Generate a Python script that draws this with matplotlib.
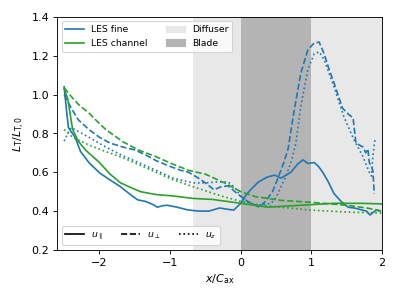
import numpy as np
import matplotlib
matplotlib.use("Agg")
import matplotlib.pyplot as plt
from matplotlib.lines import Line2D
from matplotlib.patches import Patch

# LES fine
fine_par_x = [-2.5, -2.47, -2.44, -2.34, -2.27, -2.15, -2.0, -1.85, -1.7, -1.58, -1.46, -1.35, -1.25,
              -1.18, -1.1, -1.04, -0.9, -0.75, -0.6, -0.45, -0.3, -0.2, -0.1, 0.0, 0.07, 0.14, 0.25,
              0.38, 0.48, 0.57, 0.64, 0.71, 0.8, 0.88, 0.95, 1.04, 1.1, 1.16, 1.24, 1.32, 1.42,
              1.52, 1.62, 1.72, 1.78, 1.83, 1.88, 1.92, 1.97]
fine_par_y = [1.04, 0.93, 0.83, 0.777, 0.708, 0.65, 0.597, 0.56, 0.525, 0.49, 0.458, 0.45, 0.435,
              0.42, 0.428, 0.43, 0.42, 0.406, 0.40, 0.40, 0.416, 0.41, 0.405, 0.44, 0.48, 0.51, 0.55,
              0.576, 0.585, 0.57, 0.585, 0.60, 0.64, 0.664, 0.645, 0.65, 0.63, 0.60, 0.55, 0.49, 0.45,
              0.42, 0.415, 0.405, 0.40, 0.38, 0.395, 0.405, 0.40]
fine_perp_x = [-2.5, -2.4, -2.3, -2.15, -2.0, -1.85, -1.67, -1.5, -1.35, -1.2, -1.0, -0.85, -0.74,
               -0.6, -0.5, -0.38, -0.28, -0.18, -0.05, 0.1, 0.26, 0.35, 0.45, 0.5, 0.6, 0.67, 0.75,
               0.85, 0.95, 1.04, 1.11, 1.18, 1.25, 1.32, 1.44, 1.52, 1.59, 1.63, 1.68, 1.73, 1.77,
               1.8, 1.82, 1.87, 1.89]
fine_perp_y = [1.0, 0.93, 0.87, 0.82, 0.78, 0.75, 0.73, 0.715, 0.69, 0.66, 0.63, 0.61, 0.60, 0.57,
               0.545, 0.51, 0.525, 0.53, 0.49, 0.45, 0.42, 0.45, 0.50, 0.545, 0.64, 0.72, 0.905,
               1.11, 1.23, 1.266, 1.27, 1.21, 1.13, 1.06, 0.93, 0.90, 0.88, 0.75, 0.74, 0.73, 0.70,
               0.72, 0.65, 0.61, 0.49]
fine_z_x = [-2.5, -2.45, -2.4, -2.3, -2.15, -1.91, -1.7, -1.45, -1.2, -0.96, -0.8, -0.67, -0.5,
            -0.35, -0.18, -0.08, 0.0, 0.12, 0.24, 0.35, 0.43, 0.5, 0.57, 0.64, 0.71, 0.78, 0.85,
            0.95, 1.04, 1.11, 1.18, 1.25, 1.32, 1.46, 1.6, 1.73, 1.82, 1.85, 1.87, 1.9]
fine_z_y = [0.76, 0.80, 0.83, 0.81, 0.78, 0.73, 0.69, 0.65, 0.61, 0.57, 0.555, 0.545, 0.545, 0.55,
            0.55, 0.52, 0.475, 0.44, 0.43, 0.435, 0.44, 0.47, 0.525, 0.58, 0.65, 0.75, 0.94, 1.13,
            1.21, 1.22, 1.18, 1.11, 1.04, 0.885, 0.77, 0.68, 0.60, 0.58, 0.68, 0.77]

# LES channel
chan_par_x = [-2.5, -2.45, -2.38, -2.3, -2.2, -2.0, -1.85, -1.7, -1.55, -1.42, -1.2, -0.96, -0.67,
              -0.4, 0.0, 0.38, 0.85, 1.32, 1.7, 2.0]
chan_par_y = [1.03, 0.98, 0.82, 0.76, 0.715, 0.65, 0.59, 0.545, 0.52, 0.50, 0.485, 0.478, 0.465,
              0.46, 0.44, 0.42, 0.43, 0.44, 0.44, 0.437]
chan_perp_x = [-2.5, -2.4, -2.3, -2.15, -2.0, -1.91, -1.67, -1.45, -1.2, -0.95, -0.74, -0.5, -0.38,
               -0.2, 0.0, 0.2, 0.57, 1.0, 1.5, 1.8, 2.0]
chan_perp_y = [1.035, 0.99, 0.95, 0.905, 0.85, 0.82, 0.757, 0.715, 0.68, 0.64, 0.61, 0.59, 0.57,
               0.54, 0.50, 0.475, 0.455, 0.445, 0.43, 0.415, 0.40]
chan_z_x = [-2.5, -2.38, -2.15, -1.9, -1.67, -1.45, -1.2, -0.95, -0.67, -0.38, -0.2, 0.0, 0.3,
            0.57, 1.0, 1.5, 2.0]
chan_z_y = [0.82, 0.78, 0.74, 0.705, 0.675, 0.64, 0.60, 0.56, 0.525, 0.49, 0.47, 0.45, 0.43, 0.42,
            0.405, 0.395, 0.39]

diffuser = (-0.68, 2.0)
blade = (0.0, 1.0)

blue = '#1f77b4'
green = '#2ca02c'

fig = plt.figure(figsize=(4.99, 3.74), dpi=80)
ax = fig.add_axes([0.143, 0.164, 0.814, 0.779])

ax.axvspan(*diffuser, color='#e8e8e8', zorder=0, lw=0)
ax.axvspan(*blade, color='#b4b4b4', zorder=0, lw=0)

ax.plot(fine_par_x, fine_par_y, color=blue, ls='-')
ax.plot(fine_perp_x, fine_perp_y, color=blue, ls='--')
ax.plot(fine_z_x, fine_z_y, color=blue, ls=':')
ax.plot(chan_par_x, chan_par_y, color=green, ls='-')
ax.plot(chan_perp_x, chan_perp_y, color=green, ls='--')
ax.plot(chan_z_x, chan_z_y, color=green, ls=':')

ax.set_xlim(-2.6, 2.0)
ax.set_ylim(0.2, 1.4)
ax.set_xticks([-2, -1, 0, 1, 2])
ax.set_yticks([0.2, 0.4, 0.6, 0.8, 1.0, 1.2, 1.4])
ax.set_xlabel(r'$x/C_\mathrm{ax}$')
ax.set_ylabel(r'$L_\mathrm{T}/L_\mathrm{T,0}$')

h1 = [Line2D([], [], color=blue), Line2D([], [], color=green),
      Patch(color='#e8e8e8'), Patch(color='#b4b4b4')]
leg1 = ax.legend(h1, ['LES fine', 'LES channel', 'Diffuser', 'Blade'], ncol=2,
                 loc='upper left', fontsize='small')
ax.add_artist(leg1)
h2 = [Line2D([], [], color='k', ls='-'), Line2D([], [], color='k', ls='--'),
      Line2D([], [], color='k', ls=':')]
ax.legend(h2, [r'$u_\parallel$', r'$u_\perp$', r'$u_z$'], ncol=3, loc='lower left',
          fontsize='small')

fig.savefig('out.png', dpi=80)
